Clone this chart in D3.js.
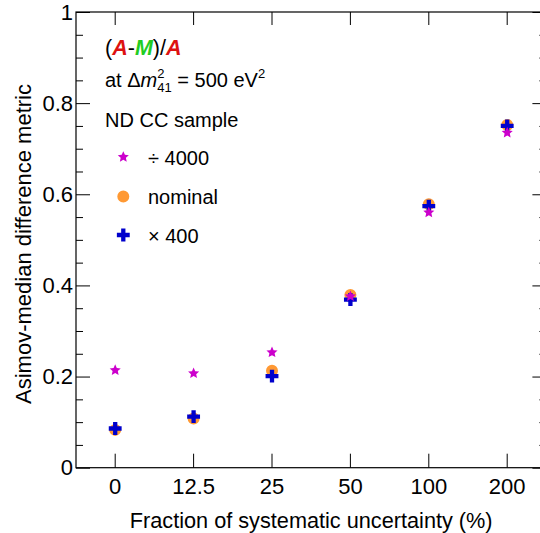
<!DOCTYPE html>
<html>
<head>
<meta charset="utf-8">
<script src="https://cdn.jsdelivr.net/npm/d3@7"></script>
<style>
  html, body { margin: 0; padding: 0; background: #fff; }
  svg { display: block; font-family: "Liberation Sans", Arial, Helvetica, sans-serif; }
</style>
</head>
<body>
<svg id="chart" width="540" height="533"></svg>
<script>
// Categories: fraction of systematic uncertainty (%)
const categories = ["0", "12.5", "25", "50", "100", "200"];

// Asimov-median difference metric for each variation of the ND CC sample
const seriesDiv4000 = [0.214, 0.207, 0.253, 0.376, 0.560, 0.735];
const seriesNominal = [0.083, 0.108, 0.213, 0.379, 0.578, 0.752];
const seriesTimes400 = [0.086, 0.112, 0.201, 0.369, 0.574, 0.750];

const yMajorTicks = [0, 0.2, 0.4, 0.6, 0.8, 1];
const yMinorTicks = [0.05, 0.1, 0.15, 0.25, 0.3, 0.35, 0.45, 0.5, 0.55,
                     0.65, 0.7, 0.75, 0.85, 0.9, 0.95];

const legendLabels = ["\u00F7 4000", "nominal", "\u00D7 400"];

const colors = { star: "#cc00cc", circle: "#ff9933", cross: "#0000cc" };

const plot = { left: 76, right: 546.4, top: 12, bottom: 467.7 };

const svg = d3.select("#chart");

const x = d3.scaleBand().domain(categories).range([plot.left, plot.right]).padding(0);
const y = d3.scaleLinear().domain([0, 1]).range([plot.bottom, plot.top]);
const cx = c => x(c) + x.bandwidth() / 2;

function styleAxis(g) {
  g.select(".domain").remove();
  g.selectAll(".tick line").attr("stroke", "#000").attr("stroke-width", 1);
  g.selectAll("text").attr("fill", "#000").attr("font-size", 22);
}

// Bottom axis with labels
svg.append("g")
  .attr("transform", `translate(0,${plot.bottom})`)
  .call(d3.axisBottom(x).tickSize(-14).tickSizeOuter(0).tickPadding(10.5))
  .call(styleAxis);

// Top axis ticks
svg.append("g")
  .attr("transform", `translate(0,${plot.top})`)
  .call(d3.axisTop(x).tickSize(-13).tickSizeOuter(0).tickFormat(""))
  .call(styleAxis);

// Left axis, major with labels
svg.append("g")
  .attr("transform", `translate(${plot.left},0)`)
  .call(d3.axisLeft(y).tickValues(yMajorTicks).tickSize(-14).tickPadding(3)
    .tickFormat(d3.format("~g")))
  .call(styleAxis);

// Left axis, minor
svg.append("g")
  .attr("transform", `translate(${plot.left},0)`)
  .call(d3.axisLeft(y).tickValues(yMinorTicks).tickSize(-7).tickFormat(""))
  .call(styleAxis);

// Right axis ticks (major and minor)
svg.append("g")
  .attr("transform", `translate(${plot.right},0)`)
  .call(d3.axisRight(y).tickValues(yMajorTicks).tickSize(-14).tickFormat(""))
  .call(styleAxis);
svg.append("g")
  .attr("transform", `translate(${plot.right},0)`)
  .call(d3.axisRight(y).tickValues(yMinorTicks).tickSize(-7).tickFormat(""))
  .call(styleAxis);

// Frame
svg.append("rect")
  .attr("x", plot.left).attr("y", plot.top)
  .attr("width", plot.right - plot.left).attr("height", plot.bottom - plot.top)
  .attr("fill", "none").attr("stroke", "#000").attr("stroke-width", 1.2);

// Axis titles
svg.append("text")
  .attr("x", (plot.left + plot.right) / 2).attr("y", 528)
  .attr("text-anchor", "middle").attr("font-size", 21.7).attr("fill", "#000")
  .text("Fraction of systematic uncertainty (%)");

svg.append("text")
  .attr("transform", `translate(31,244) rotate(-90)`)
  .attr("text-anchor", "middle").attr("font-size", 22).attr("fill", "#000")
  .text("Asimov-median difference metric");

// Five-pointed star with a broad body
const fatStar = {
  draw(context, size) {
    const R = Math.sqrt(size / 1.3);
    const r = R * 0.47;
    for (let k = 0; k < 10; k++) {
      const rad = k % 2 === 0 ? R : r;
      const a = -Math.PI / 2 + k * Math.PI / 5;
      const px = rad * Math.cos(a), py = rad * Math.sin(a);
      if (k === 0) context.moveTo(px, py); else context.lineTo(px, py);
    }
    context.closePath();
  }
};

// Markers
const starPath = d3.symbol().type(fatStar).size(44)();
const circlePath = d3.symbol().type(d3.symbolCircle).size(113)();
const crossPath = d3.symbol().type(d3.symbolCross).size(92)();

const marks = svg.append("g");
marks.selectAll(".nominal").data(seriesNominal).join("path")
  .attr("class", "nominal")
  .attr("d", circlePath)
  .attr("transform", (d, i) => `translate(${cx(categories[i])},${y(d)})`)
  .attr("fill", colors.circle);
marks.selectAll(".times400").data(seriesTimes400).join("path")
  .attr("class", "times400")
  .attr("d", crossPath)
  .attr("transform", (d, i) => `translate(${cx(categories[i])},${y(d)})`)
  .attr("fill", colors.cross);
marks.selectAll(".div4000").data(seriesDiv4000).join("path")
  .attr("class", "div4000")
  .attr("d", starPath)
  .attr("transform", (d, i) => `translate(${cx(categories[i])},${y(d)})`)
  .attr("fill", colors.star);

// Legend / annotation block
const leg = svg.append("g").attr("fill", "#000");

const title = leg.append("text").attr("x", 105).attr("y", 55).attr("font-size", 21.5);
title.append("tspan").text("(");
title.append("tspan").attr("fill", "#dd1111").attr("font-weight", "bold").attr("font-style", "italic").text("A");
title.append("tspan").text("-");
title.append("tspan").attr("fill", "#22cc22").attr("font-weight", "bold").attr("font-style", "italic").text("M");
title.append("tspan").text(")/");
title.append("tspan").attr("fill", "#dd1111").attr("font-weight", "bold").attr("font-style", "italic").text("A");

const dm = leg.append("text").attr("x", 105).attr("y", 87).attr("font-size", 20);
dm.append("tspan").text("at \u0394");
dm.append("tspan").attr("font-style", "italic").text("m");
dm.append("tspan").attr("font-size", 13).attr("dy", -9).text("2");
dm.append("tspan").attr("font-size", 13).attr("dx", -7.2).attr("dy", 14).text("41");
dm.append("tspan").attr("dy", -5).text(" = 500 eV");
dm.append("tspan").attr("font-size", 13).attr("dy", -9).text("2");

leg.append("text").attr("x", 105).attr("y", 126.7).attr("font-size", 20)
  .text("ND CC sample");

const legendShapes = [
  { path: starPath, color: colors.star },
  { path: circlePath, color: colors.circle },
  { path: crossPath, color: colors.cross }
];
const legendY = [157, 196.5, 235];
legendLabels.forEach((lab, i) => {
  leg.append("path")
    .attr("d", legendShapes[i].path)
    .attr("transform", `translate(123.3,${legendY[i]})`)
    .attr("fill", legendShapes[i].color);
  leg.append("text")
    .attr("x", 148).attr("y", legendY[i] + 7.5)
    .attr("font-size", 20)
    .text(lab);
});
</script>
</body>
</html>
